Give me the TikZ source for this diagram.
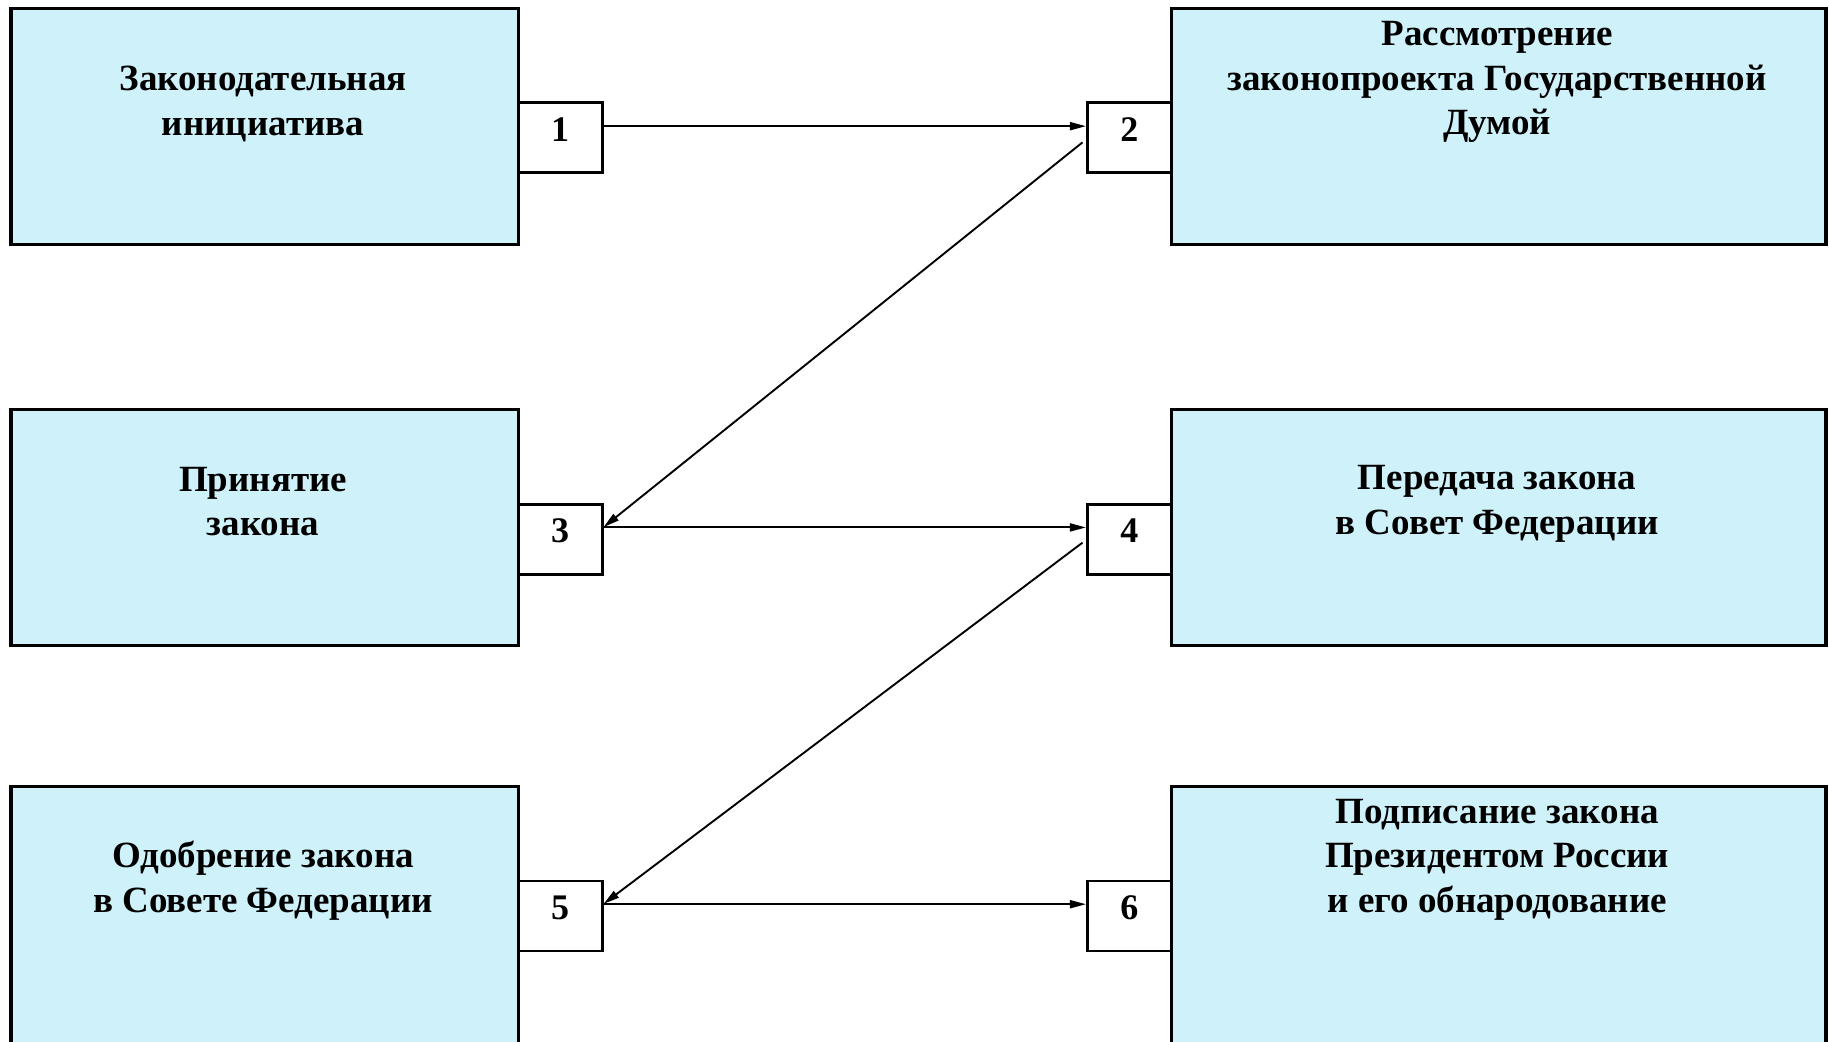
\documentclass[tikz,border=0pt]{standalone}
\usepackage{fontspec}
\setmainfont{Liberation Serif}
\usetikzlibrary{arrows.meta}
\definecolor{boxfill}{RGB}{207,242,250}
\begin{document}
\begin{tikzpicture}[x=1.1665pt,y=-1.1665pt,
  bigbox/.style={draw=black,line width=3.2pt,fill=boxfill,minimum width=507.4pt,minimum height=235.6pt,inner sep=0pt,anchor=north west},
  widebox/.style={bigbox,minimum width=654.4pt},
  tallbox/.style={bigbox,minimum height=500pt},
  numbox/.style={draw=black,line width=2.8pt,fill=white,minimum width=84pt,minimum height=70pt,inner sep=0pt,text height=28pt,text depth=21pt,anchor=north west,font=\fontsize{36}{44}\selectfont\bfseries},
  label/.style={align=center,inner sep=0pt,font=\fontsize{37}{44.5}\selectfont\bfseries},
  conn/.style={line width=1.9pt,-{Triangle[length=16pt,width=8pt]}}]
\useasboundingbox (0,0) rectangle (1568,893.3);
\clip (0,0) rectangle (1568,893.3);
\fill[white] (0,0) rectangle (1568,893.3);
% big boxes
\node[bigbox] (A) at (8,6) {};
\node[widebox] (B) at (1003,6) {};
\node[bigbox] (C) at (8,350) {};
\node[widebox] (D) at (1003,350) {};
\node[tallbox] (E) at (8,673) {};
\node[tallbox,minimum width=654.4pt] (F) at (1003,673) {};
% texts
\node[label] (tA) at (225.5,89) {Законодательная\\инициатива};
\node[label] (tB) at (1283.5,70.5) {Рассмотрение\\законопроекта Государственной\\Думой};
\node[label] (tC) at (225.5,430) {Принятие\\закона};
\node[label] (tD) at (1283.5,432) {Передача закона\\в Совет Федерации};
\node[label] (tE) at (225.5,755) {Одобрение закона\\в Совете Федерации};
\node[label] (tF) at (1283.5,737) {Подписание закона\\Президентом России\\и его обнародование};
% number boxes
\node[numbox] (n1) at (443,87) {1};
\node[numbox] (n2) at (931,87) {2};
\node[numbox] (n3) at (443,431) {3};
\node[numbox] (n4) at (931,431) {4};
\node[numbox] (n5) at (443,754) {5};
\node[numbox] (n6) at (931,754) {6};
% connectors
\draw[conn] ([yshift=11.7pt]n1.east) -- ([yshift=11.7pt]n2.west);
\draw[conn] ([xshift=-3.5pt,yshift=-4.5pt]n2.west) -- ([yshift=12pt]n3.east);
\draw[conn] ([yshift=11.7pt]n3.east) -- ([yshift=11.7pt]n4.west);
\draw[conn] ([xshift=-3.5pt,yshift=-3.5pt]n4.west) -- ([yshift=12pt]n5.east);
\draw[conn] ([yshift=11.7pt]n5.east) -- ([yshift=11.7pt]n6.west);
\end{tikzpicture}
\end{document}
